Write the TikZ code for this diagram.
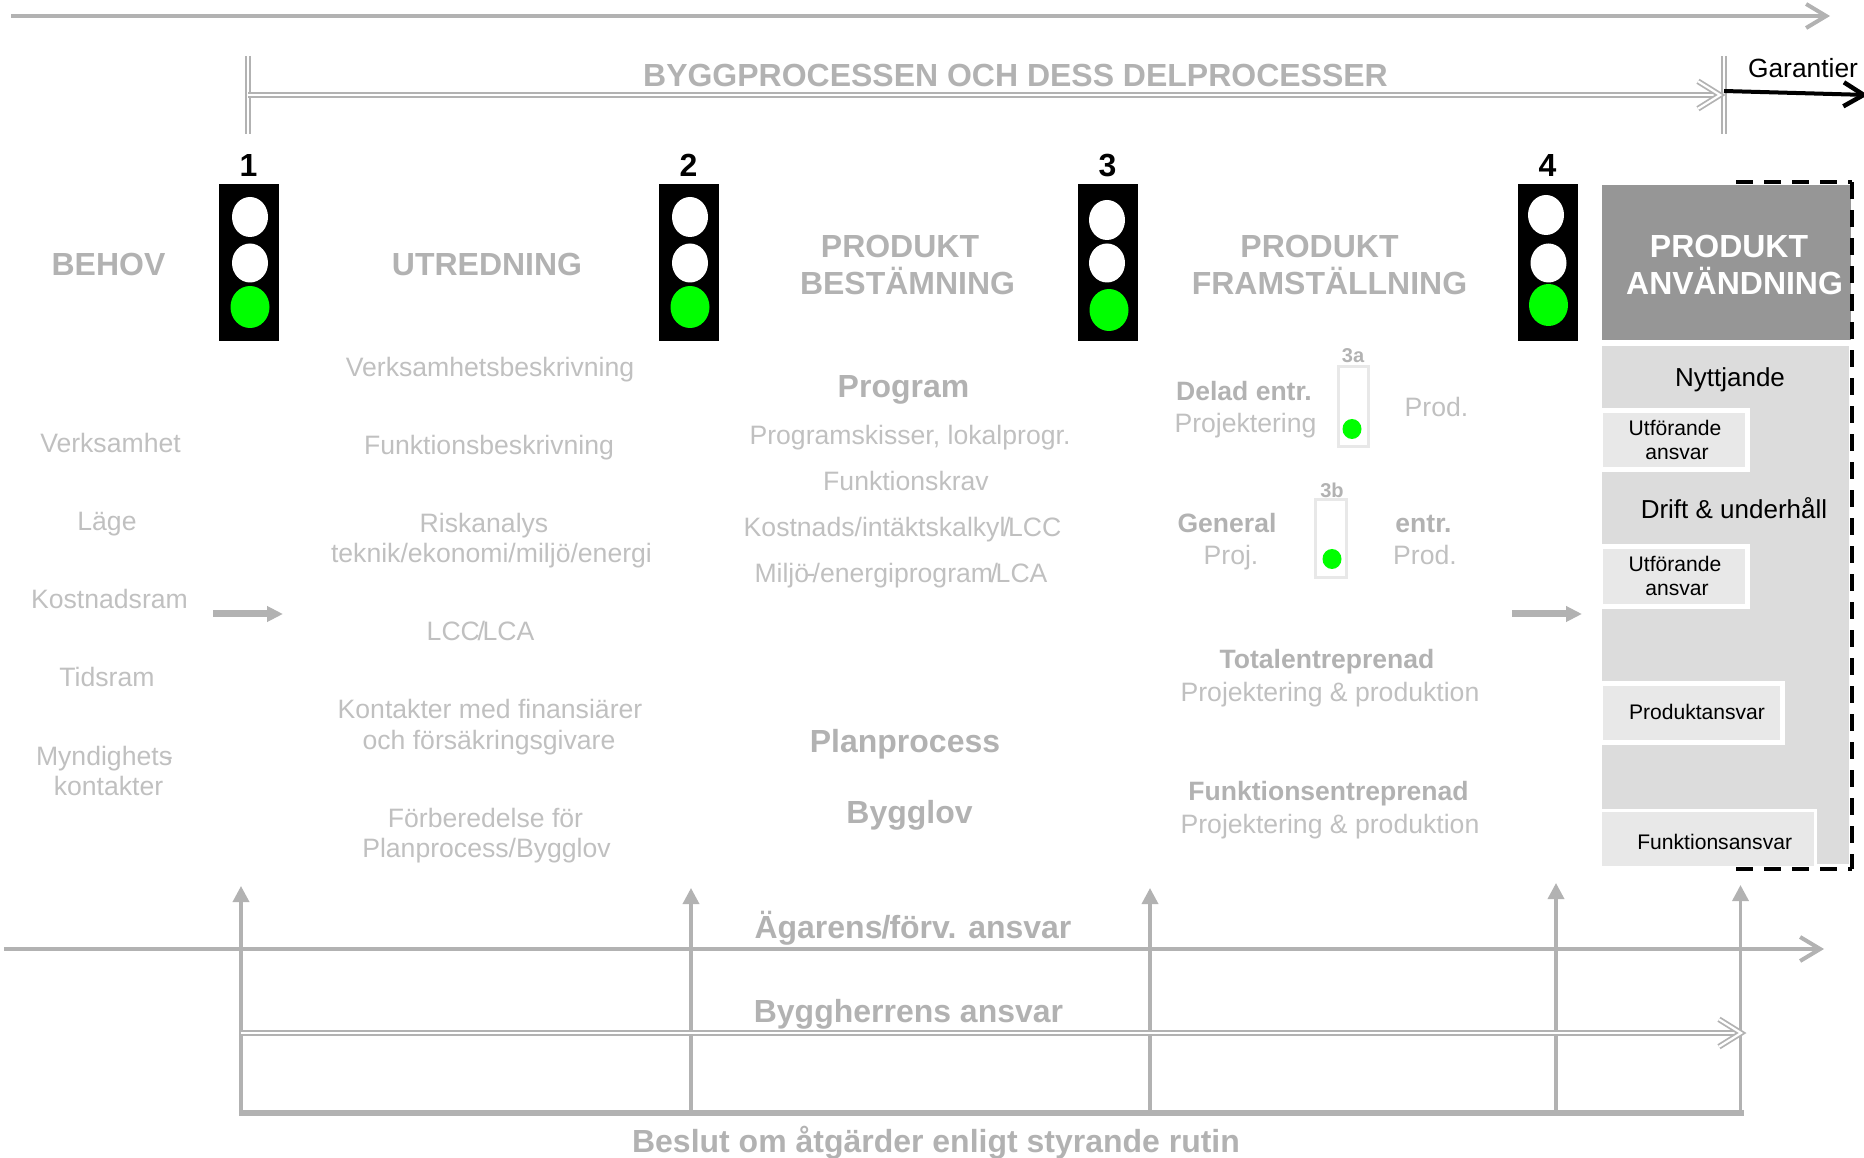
\documentclass[tikz,border=0pt]{standalone}
\usepackage{fontspec}
\usepackage{xcolor}
\setmainfont{Liberation Sans}
\usetikzlibrary{arrows.meta}
\definecolor{linegray}{HTML}{B2B2B2}
\definecolor{textgray}{HTML}{C0C0C0}
\definecolor{headdark}{HTML}{969696}
\definecolor{panelgray}{HTML}{DCDCDC}
\definecolor{boxgray}{HTML}{E8E8E8}
\definecolor{lampgreen}{HTML}{00FF00}
\newcommand{\tightslash}{\kern-.09em/\kern-.09em}
\tikzset{
  txt/.style={inner sep=0pt,text height=.72em,text depth=0pt},
  body/.style={txt,yshift=.035cm,text=textgray,font=\fontsize{7.57}{9}\selectfont},
  boldbody/.style={txt,yshift=.028cm,text=linegray,font=\fontsize{7.55}{9}\selectfont\bfseries},
  head/.style={txt,yshift=.012cm,text=linegray,font=\fontsize{9.1}{11}\selectfont\bfseries},
  blackbody/.style={txt,yshift=.035cm,text=black,font=\fontsize{7.4}{9}\selectfont},
  blacksmall/.style={txt,yshift=.047cm,text=black,font=\fontsize{6}{7}\selectfont},
  lamp/.style={fill=white,draw=none},
  mainline/.style={draw=linegray,line width=.037cm,-{Straight Barb[length=.2cm,width=.24cm,line width=.04cm]}},
  gateline/.style={draw=linegray,line width=.035cm,-{Triangle[length=.16cm,width=.16cm]}},
  twoline/.style={draw=linegray,line width=.018cm,double=white,double distance=.022cm},
  stepline/.style={draw=linegray,line width=.07cm,-{Triangle[length=.16cm,width=.15cm]}},
  dutybox/.style={fill=boxgray,draw=white,line width=.05cm},
  minibox/.style={fill=white,draw=boxgray,line width=.03cm},
  dashline/.style={black,line width=.04cm,dash pattern=on .17cm off .11cm},
}
\begin{document}
\begin{tikzpicture}[x=1cm,y=-1cm]
  \useasboundingbox (0,0) rectangle (18.64,11.58);

  % top line and process line
  \coordinate (topstart) at (0.11,0.16);
  \coordinate (topend) at (18.30,0.16);
  \draw[mainline] (topstart) -- (topend);
  \coordinate (barAtop) at (2.48,0.56);
  \coordinate (barAbot) at (2.48,1.34);
  \coordinate (barBtop) at (17.24,0.56);
  \coordinate (barBbot) at (17.24,1.34);
  \coordinate (procstart) at (2.48,0.95);
  \coordinate (procend) at (17.20,0.95);
  \coordinate (garstart) at (17.24,0.91);
  \coordinate (garend) at (18.68,0.95);
  \draw[twoline] (barAtop) -- (barAbot);
  \draw[twoline] (barBtop) -- (barBbot);
  \draw[twoline] (procstart) -- (procend);
  \draw[twoline] (procend) ++(-0.22,-0.137) -- (procend) -- ++(-0.22,0.137);
  \draw[black,line width=.04cm,-{Straight Barb[length=.2cm,width=.24cm,line width=.045cm]}] (garstart) -- (garend);
  \node[head] (proctitle) at (10.155,0.75) {BYGGPROCESSEN OCH DESS DELPROCESSER};
  \node[txt,yshift=.03cm,font=\fontsize{7.5}{9}\selectfont] (garantier) at (18.03,0.68) {Garantier};

  % traffic lights
  \foreach \n/\x/\a/\b/\c/\d/\e/\f in {1/2.19/2.50/2.17/2.50/2.63/2.50/3.07,
                                       2/6.59/6.90/2.17/6.90/2.63/6.90/3.07,
                                       3/10.78/11.07/2.20/11.07/2.63/11.09/3.10,
                                       4/15.18/15.46/2.15/15.485/2.63/15.485/3.05}
  {
    \fill[black] (\x,1.84) rectangle ++(0.595,1.57);
    \fill[lamp] (\a,\b) ellipse (0.18 and 0.20);
    \fill[lamp] (\c,\d) ellipse (0.18 and 0.195);
    \fill[lampgreen] (\e,\f) ellipse (0.195 and 0.21);
    \node[txt,yshift=.012cm,font=\fontsize{9.1}{11}\selectfont\bfseries] (num\n) at (\x+0.295,1.65) {\n};
  }

  % panel to the right
  \fill[headdark] (16.02,1.85) rectangle (18.505,3.40);
  \fill[panelgray] (16.02,3.46) rectangle (18.49,8.64);
  \filldraw[dutybox] (16.00,4.105) rectangle (17.475,4.70);
  \filldraw[dutybox] (16.00,5.465) rectangle (17.475,6.07);
  \filldraw[dutybox] (16.00,6.835) rectangle (17.825,7.43);
  \filldraw[dutybox,line width=.03cm] (16.00,8.10) rectangle (18.155,8.67);
  \coordinate (dashA) at (17.36,1.825);
  \coordinate (dashB) at (18.52,1.825);
  \coordinate (dashC) at (18.52,8.69);
  \coordinate (dashD) at (17.36,8.69);
  \draw[dashline] (dashA) -- (dashB);
  \draw[dashline] (dashB) -- (dashC);
  \draw[dashline] (dashD) -- (dashC);
  \node[head,text=white] (useA) at (17.29,2.46) {PRODUKT};
  \node[head,text=white] (useB) at (17.346,2.835) {ANVÄNDNING};
  \node[blackbody] (nytt) at (17.30,3.77) {Nyttjande};
  \node[blackbody] (drift) at (17.34,5.09) {Drift \& underhåll};
  \node[blacksmall] (utfA) at (16.75,4.28) {Utförande};
  \node[blacksmall] (ansA) at (16.77,4.52) {ansvar};
  \node[blacksmall] (utfB) at (16.75,5.64) {Utförande};
  \node[blacksmall] (ansB) at (16.77,5.88) {ansvar};
  \node[blacksmall] (prodans) at (16.97,7.114) {Produktansvar};
  \node[blacksmall] (funkans) at (17.147,8.414) {Funktionsansvar};

  % column headings
  \node[head] (behov) at (1.085,2.64) {BEHOV};
  \node[head] (utr) at (4.87,2.64) {UTREDNING};
  \node[head] (bestA) at (9.00,2.46) {PRODUKT};
  \node[head] (bestB) at (9.075,2.835) {BESTÄMNING};
  \node[head] (framA) at (13.195,2.46) {PRODUKT};
  \node[head] (framB) at (13.295,2.835) {FRAMSTÄLLNING};

  % plain texts
  \foreach \x/\y/\t [count=\i] in {1.105/4.435/Verksamhet, 1.07/5.215/Läge, 1.095/5.99/Kostnadsram,
      1.07/6.77/Tidsram, 1.045/7.56/Myndighets\kern-.3em-, 1.085/7.86/kontakter,
      4.90/3.67/Verksamhetsbeskrivning, 4.89/4.45/Funktionsbeskrivning, 4.84/5.235/Riskanalys,
      4.915/5.535/teknik\slash ekonomi\slash miljö\slash energi, 4.805/6.31/LCC\tightslash LCA,
      4.90/7.09/Kontakter med finansiärer, 4.89/7.40/och försäkringsgivare,
      4.855/8.18/Förberedelse för, 4.865/8.48/Planprocess\slash Bygglov,
      9.10/4.35/{Programskisser, lokalprogr.}, 9.06/4.815/Funktionskrav,
      9.025/5.27/Kostnads\slash intäktskalkyl\tightslash LCC,
      9.01/5.73/{Miljö\kern-.1em-\kern-.1em/energiprogram\tightslash LCA},
      12.455/4.23/Projektering, 14.365/4.07/Prod., 12.31/5.55/Proj., 14.25/5.55/Prod.,
      13.30/6.925/Projektering \& produktion, 13.30/8.246/Projektering \& produktion}
    \node[body] (plain\i) at (\x,\y) {\t};

  % bold texts
  \foreach \x/\y/\t [count=\i] in {12.44/3.91/Delad entr., 12.27/5.23/General, 14.235/5.23/entr.,
      13.27/6.585/Totalentreprenad, 13.285/7.91/Funktionsentreprenad}
    \node[boldbody] (strong\i) at (\x,\y) {\t};
  \foreach \x/\y/\t [count=\i] in {9.035/3.86/Program, 9.05/7.41/Planprocess, 9.095/8.12/Bygglov,
      9.13/9.27/{Ägarens\kern-.03em/\kern-.03em förv. ansvar}, 9.085/10.11/Byggherrens ansvar,
      9.36/11.41/Beslut om åtgärder enligt styrande rutin}
    \node[head] (large\i) at (\x,\y) {\t};

  % small boxes 3a and 3b
  \filldraw[minibox] (13.38,3.67) rectangle (13.685,4.47);
  \filldraw[minibox] (13.15,5.00) rectangle (13.46,5.78);
  \fill[lampgreen] (13.52,4.29) ellipse (0.095 and 0.10);
  \fill[lampgreen] (13.32,5.59) ellipse (0.095 and 0.10);
  \node[txt,text=linegray,font=\fontsize{5.7}{7}\selectfont\bfseries] (tagA) at (13.53,3.50) {3a};
  \node[txt,text=linegray,font=\fontsize{5.7}{7}\selectfont\bfseries] (tagB) at (13.32,4.85) {3b};

  % short arrows
  \coordinate (stepAa) at (2.13,6.14);
  \coordinate (stepAb) at (2.83,6.14);
  \coordinate (stepBa) at (15.12,6.14);
  \coordinate (stepBb) at (15.82,6.14);
  \draw[stepline] (stepAa) -- (stepAb);
  \draw[stepline] (stepBa) -- (stepBb);

  % bottom lines
  \coordinate (ownstart) at (0.04,9.49);
  \coordinate (ownend) at (18.24,9.49);
  \draw[mainline] (ownstart) -- (ownend);
  \coordinate (baseA) at (2.39,11.13);
  \coordinate (baseB) at (17.435,11.13);
  \draw[linegray,line width=.065cm] (baseA) -- (baseB);
  \foreach \n/\x/\y in {1/2.41/8.86,2/6.91/8.88,3/11.50/8.88,4/15.56/8.83,5/17.405/8.85}
  {
    \coordinate (gatebot\n) at (\x,11.13);
    \coordinate (gatetop\n) at (\x,\y);
    \draw[gateline] (gatebot\n) -- (gatetop\n);
  }
  \coordinate (herrstart) at (2.41,10.33);
  \coordinate (herrend) at (17.41,10.33);
  \draw[twoline] (herrstart) -- (herrend);
  \draw[twoline] (herrend) ++(-0.22,-0.137) -- (herrend) -- ++(-0.22,0.137);
\end{tikzpicture}
\end{document}
